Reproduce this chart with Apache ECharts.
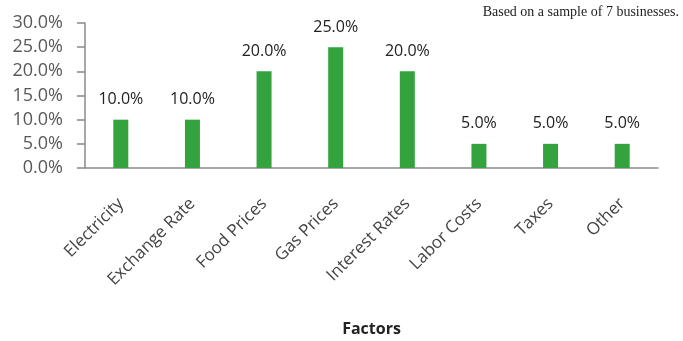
<!DOCTYPE html>
<html>
<head>
<meta charset="utf-8">
<script src="https://cdn.jsdelivr.net/npm/echarts@6/dist/echarts.min.js"></script>
<style>
  html, body { margin: 0; padding: 0; background: #fff; }
  #chart { width: 683px; height: 341px; }
</style>
</head>
<body>
<div id="chart"></div>
<script>
// Share of businesses citing each factor (percent)
const factors = ['Electricity', 'Exchange Rate', 'Food Prices', 'Gas Prices', 'Interest Rates', 'Labor Costs', 'Taxes', 'Other'];
const shares = [10, 10, 20, 25, 20, 5, 5, 5];
const yTicks = { min: 0, max: 30, step: 5 };
const note = 'Based on a sample of 7 businesses.';

const chart = echarts.init(document.getElementById('chart'));
const sans = '"Open Sans", "Noto Sans", sans-serif';

chart.setOption({
  animation: false,
  grid: { left: 85, right: 25, top: 23, bottom: 173, containLabel: false },
  graphic: [{
    type: 'text',
    right: 4,
    top: 5,
    style: { text: note, font: '14px "Liberation Serif", "DejaVu Serif", serif', fill: '#222' }
  }],
  xAxis: {
    type: 'category',
    data: factors,
    name: 'Factors',
    nameLocation: 'middle',
    nameGap: 153,
    nameTextStyle: { fontFamily: sans, fontSize: 16, fontWeight: 'bold', color: '#222' },
    axisLine: { lineStyle: { color: '#8a8a8a', width: 1.5 } },
    axisTick: { show: false },
    axisLabel: { rotate: 45, margin: 33, interval: 0, fontFamily: sans, fontSize: 17, color: '#444' }
  },
  yAxis: {
    type: 'value',
    min: yTicks.min,
    max: yTicks.max,
    interval: yTicks.step,
    splitLine: { show: false },
    axisLine: { show: true, lineStyle: { color: '#8a8a8a', width: 1.5 } },
    axisTick: { show: true, length: 8, lineStyle: { color: '#8a8a8a', width: 1.5 } },
    axisLabel: { margin: 22, fontFamily: sans, fontSize: 18, color: '#595959', formatter: v => v.toFixed(1) + '%' }
  },
  series: [{
    type: 'bar',
    data: shares,
    barWidth: 15,
    itemStyle: { color: '#35a33d' },
    label: {
      show: true,
      position: 'top',
      distance: 12,
      fontFamily: sans,
      fontSize: 16,
      color: '#222',
      formatter: p => p.value.toFixed(1) + '%'
    }
  }]
});
</script>
</body>
</html>
